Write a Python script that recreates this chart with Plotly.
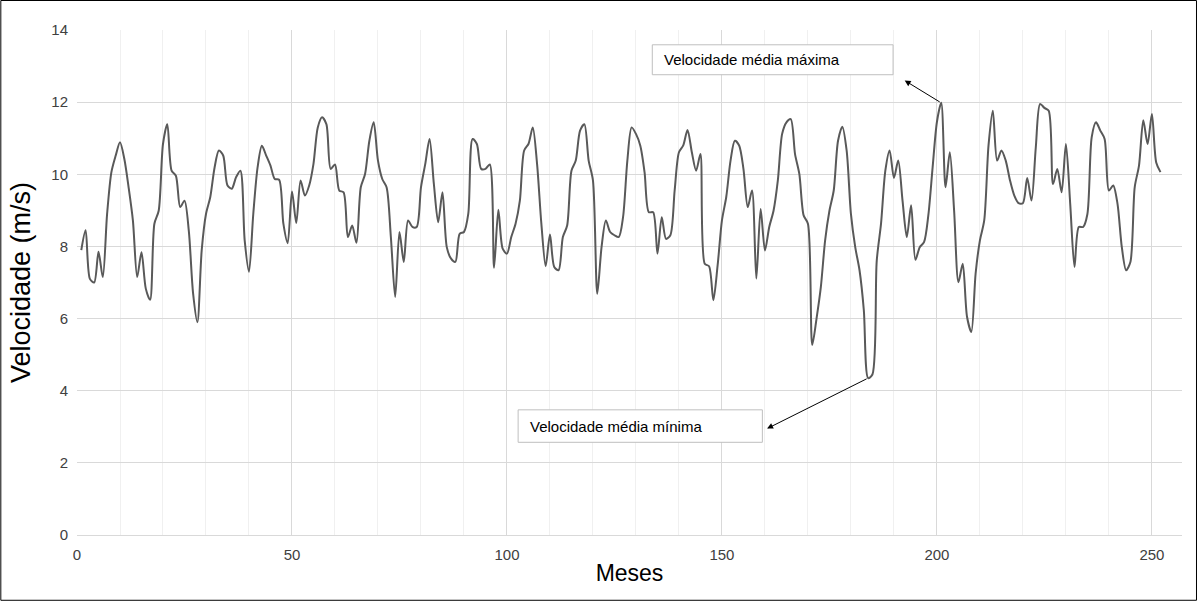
import plotly.graph_objects as go
import numpy as np

months = list(range(1, 253))
velocidade = [
    7.9, 8.45, 7.1, 7.0, 7.85, 7.15, 8.9, 10.06, 10.52, 10.89,
    10.43, 9.64, 8.72, 7.15, 7.84, 6.83, 6.52, 8.63, 8.99, 10.84,
    11.39, 10.1, 9.96, 9.09, 9.27, 8.44, 6.7, 5.9, 7.89, 8.9,
    9.37, 10.19, 10.66, 10.52, 9.69, 9.6, 9.92, 10.1, 8.17, 7.3,
    8.9, 10.19, 10.79, 10.52, 10.24, 9.87, 9.85, 8.63, 8.09, 9.52,
    8.65, 9.83, 9.41, 9.69, 10.29, 11.3, 11.58, 11.39, 10.15, 10.27,
    9.55, 9.5, 8.26, 8.58, 8.1, 9.64, 10.01, 10.93, 11.44, 10.38,
    9.87, 9.64, 8.26, 6.6, 8.4, 7.57, 8.72, 8.54, 8.54, 9.64,
    10.29, 10.98, 9.73, 8.67, 9.5, 7.98, 7.66, 7.57, 8.35, 8.4,
    8.9, 10.98, 10.84, 10.15, 10.15, 10.27, 7.41, 9.02, 7.94, 7.8,
    8.26, 8.63, 9.27, 10.66, 10.84, 11.3, 10.29, 8.63, 7.45, 8.33,
    7.43, 7.34, 8.26, 8.58, 10.1, 10.38, 11.21, 11.39, 10.38, 9.83,
    6.69, 7.98, 8.72, 8.4, 8.31, 8.26, 8.81, 10.38, 11.3, 11.12,
    10.8, 10.06, 8.95, 8.95, 7.8, 8.81, 8.21, 8.31, 9.55, 10.61,
    10.8, 11.23, 10.61, 10.1, 10.56, 7.52, 7.45, 6.51, 7.48, 8.72,
    9.37, 10.38, 10.93, 10.8, 10.15, 9.09, 9.55, 7.11, 9.04, 7.89,
    8.54, 8.99, 9.83, 11.12, 11.44, 11.53, 10.56, 10.01, 8.86, 8.63,
    5.27, 6.0, 6.87, 8.17, 8.99, 9.55, 10.93, 11.32, 10.66, 8.9,
    7.98, 7.34, 6.23, 4.35, 4.45, 7.6, 8.63, 10.1, 10.66, 9.9,
    10.38, 9.27, 8.26, 9.14, 7.63, 7.98, 8.12, 8.86, 10.19, 11.45,
    11.98, 9.64, 10.61, 8.99, 7.01, 7.52, 6.05, 5.63, 7.25, 8.17,
    8.72, 10.8, 11.76, 10.38, 10.66, 10.38, 9.83, 9.41, 9.2, 9.2,
    9.9, 9.27, 10.75, 11.95, 11.84, 11.76, 9.73, 10.15, 9.5, 10.84,
    9.18, 7.43, 8.54, 8.54, 8.9, 11.03, 11.44, 11.21, 10.98, 9.55,
    9.69, 9.18, 7.98, 7.34, 7.57, 9.64, 10.24, 11.5, 10.84, 11.67,
    10.33, 10.06,
]
x_ticks = [0, 50, 100, 150, 200, 250]
y_ticks = [0, 2, 4, 6, 8, 10, 12, 14]
label_max = "Velocidade média máxima"
label_min = "Velocidade média mínima"

i_max = int(np.argmax(velocidade))
i_min = int(np.argmin(velocidade))

fig = go.Figure()
fig.add_trace(go.Scatter(
    x=months, y=velocidade, mode="lines",
    line=dict(color="#595959", width=2, shape="spline", smoothing=0.8),
    showlegend=False, hoverinfo="skip",
))

# text boxes
fig.add_shape(type="rect", xref="x", yref="y", x0=133.8, x1=189.8, y0=12.76, y1=13.59,
              line=dict(color="#bfbfbf", width=1), fillcolor="white")
fig.add_shape(type="rect", xref="x", yref="y", x0=102.6, x1=159.4, y0=2.57, y1=3.47,
              line=dict(color="#bfbfbf", width=1), fillcolor="white")
fig.add_annotation(x=136.0, y=13.17, xref="x", yref="y", text=label_max, showarrow=False,
                   xanchor="left", font=dict(family="Liberation Sans, Arial", size=15, color="#000000"))
fig.add_annotation(x=104.8, y=3.02, xref="x", yref="y", text=label_min, showarrow=False,
                   xanchor="left", font=dict(family="Liberation Sans, Arial", size=15, color="#000000"))
# arrows: head at box, tail at data point
fig.add_annotation(x=192.5, y=12.6, xref="x", yref="y", ax=months[i_max], ay=velocidade[i_max],
                   axref="x", ayref="y", text="", showarrow=True, arrowhead=2, arrowsize=1.2,
                   arrowwidth=1, arrowcolor="#000000")
fig.add_annotation(x=160.5, y=2.95, xref="x", yref="y", ax=months[i_min], ay=velocidade[i_min],
                   axref="x", ayref="y", text="", showarrow=True, arrowhead=2, arrowsize=1.2,
                   arrowwidth=1, arrowcolor="#000000")

# outer frame
L, R, T, B = 76.7, 1182.0, 30.0, 535.2
W, H = R - L, B - T
fig.add_shape(type="rect", xref="paper", yref="paper",
              x0=(0.5 - L) / W, x1=(1196.5 - L) / W,
              y0=-(600.5 - B) / H, y1=1 + (T - 0.5) / H,
              line=dict(color="#000000", width=1), fillcolor="rgba(0,0,0,0)", layer="below")

fig.update_layout(
    width=1197, height=601,
    margin=dict(l=L, r=1197 - R, t=T, b=601 - B),
    paper_bgcolor="white", plot_bgcolor="white",
    font=dict(family="Liberation Sans, Arial", color="#404040"),
    xaxis=dict(
        range=[0, 257], tickvals=x_ticks, ticks="", showgrid=True, gridcolor="#d9d9d9",
        gridwidth=1, zeroline=False, showline=True, linecolor="#d9d9d9",
        tickfont=dict(size=15, color="#404040"), ticklabelstandoff=6,
        minor=dict(dtick=10, tick0=0, showgrid=True, gridcolor="#f0f0f0", gridwidth=1),
        title=dict(text="Meses", font=dict(size=23, color="#000000"), standoff=2),
    ),
    yaxis=dict(
        range=[0, 14], tickvals=y_ticks, ticks="", showgrid=True, gridcolor="#d9d9d9",
        gridwidth=1, zeroline=False, showline=False,
        tickfont=dict(size=15, color="#404040"), ticklabelstandoff=8,
        title=dict(text="Velocidade (m/s)", font=dict(size=27, color="#000000"), standoff=12),
    ),
)

fig.write_html("out.html")
